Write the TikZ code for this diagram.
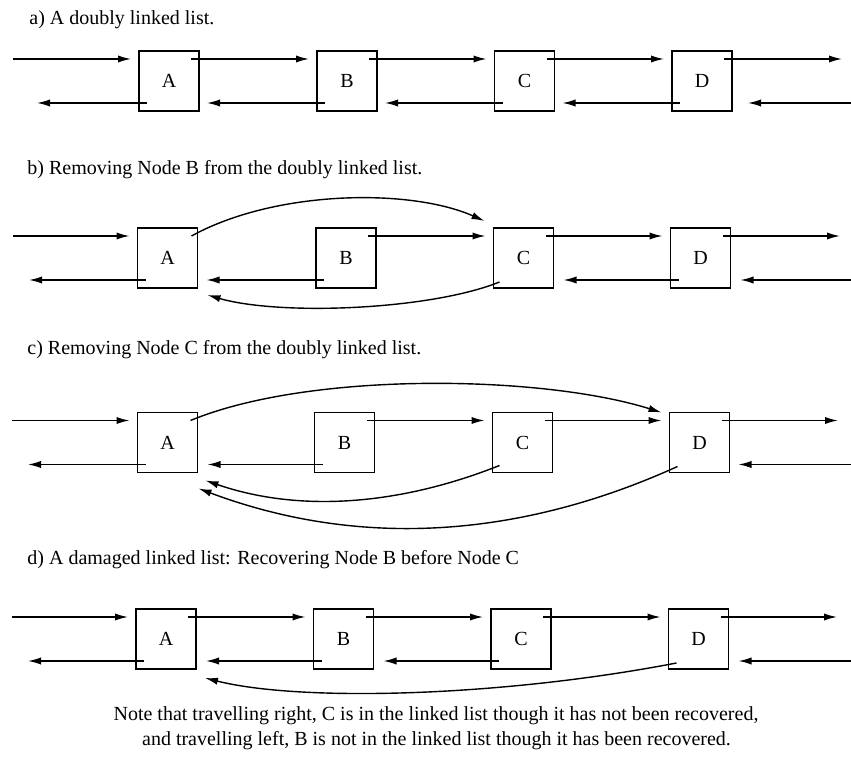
\documentclass[tikz,border=0pt]{standalone}
\usepackage{fontspec}
\setmainfont{Liberation Serif}
\usetikzlibrary{arrows.meta,calc}
\begin{document}
\begin{tikzpicture}[x=0.5pt,y=-0.5pt,
  box/.style={draw,line width=0.8pt,minimum size=30pt,inner sep=0pt,outer sep=0pt,font=\fontsize{10}{12}\selectfont},
  lnk/.style={line width=0.7pt,-{Latex[length=6.5pt,width=3.6pt]}},
  ttl/.style={anchor=base west,inner sep=0pt,font=\fontsize{10}{12}\selectfont},
  notetxt/.style={anchor=base,inner sep=0pt,font=\fontsize{10}{12}\selectfont}]
\useasboundingbox (0,0) rectangle (851,769);

% ---------------- a)
\node[ttl] (ta) at (29,25) {a) A doubly linked list.};
\node[box] (aA) at (169,81) {A};
\node[box] (aB) at (347,81) {B};
\node[box] (aC) at (524.5,81) {C};
\node[box] (aD) at (702,81) {D};
\coordinate (aIn) at (13,59);
\coordinate (aOut) at (842,59);
\coordinate (aLeft) at (37,103);
\coordinate (aRin) at (851,103);
\draw[lnk] (aIn) -- ($(aA.north west)+(-8,8)$);
\draw[lnk] ($(aA.north east)+(-8,8)$) -- ($(aB.north west)+(-8,8)$);
\draw[lnk] ($(aB.north east)+(-8,8)$) -- ($(aC.north west)+(-8,8)$);
\draw[lnk] ($(aC.north east)+(-8,8)$) -- ($(aD.north west)+(-8,8)$);
\draw[lnk] ($(aD.north east)+(-8,8)$) -- (aOut);
\draw[lnk] ($(aA.south west)+(8,-8)$) -- (aLeft);
\draw[lnk] ($(aB.south west)+(8,-8)$) -- ($(aA.south east)+(8,-8)$);
\draw[lnk] ($(aC.south west)+(8,-8)$) -- ($(aB.south east)+(8,-8)$);
\draw[lnk] ($(aD.south west)+(8,-8)$) -- ($(aC.south east)+(8,-8)$);
\draw[lnk] (aRin) -- ($(aD.south east)+(16,-8)$);

% ---------------- b)
\node[ttl] (tb) at (27,175) {b) Removing Node B from the doubly linked list.};
\node[box] (bA) at (167.5,258) {A};
\node[box] (bB) at (346,258) {B};
\node[box] (bC) at (523.5,258) {C};
\node[box] (bD) at (700.5,258) {D};
\coordinate (bIn) at (13,236);
\coordinate (bOut) at (840,236);
\coordinate (bLeft) at (29,280);
\coordinate (bRin) at (851,280);
\draw[lnk] (bIn) -- ($(bA.north west)+(-8,8)$);
\draw[lnk] ($(bA.north east)+(-6,8)$) .. controls (275,190) and (410,188) .. ($(bC.north west)+(-9,-7)$);
\draw[lnk] ($(bB.north east)+(-8,8)$) -- ($(bC.north west)+(-8,8)$);
\draw[lnk] ($(bC.north east)+(-8,8)$) -- ($(bD.north west)+(-8,8)$);
\draw[lnk] ($(bD.north east)+(-8,8)$) -- (bOut);
\draw[lnk] ($(bA.south west)+(8,-8)$) -- (bLeft);
\draw[lnk] ($(bB.south west)+(8,-8)$) -- ($(bA.south east)+(9,-8)$);
\draw[lnk] ($(bC.south west)+(6,-6)$) .. controls (430,310) and (280,316) .. ($(bA.south east)+(10,7)$);
\draw[lnk] ($(bD.south west)+(8,-8)$) -- ($(bC.south east)+(10,-8)$);
\draw[lnk] (bRin) -- ($(bD.south east)+(10,-8)$);

% ---------------- c)
\node[ttl] (tc) at (27,355) {c) Removing Node C from the doubly linked list.};
\node[box] (cA) at (167.5,442.5) {A};
\node[box] (cB) at (344.5,442.5) {B};
\node[box] (cC) at (522.5,442.5) {C};
\node[box] (cD) at (699.5,442.5) {D};
\coordinate (cIn) at (12,420.5);
\coordinate (cOut) at (838,420.5);
\coordinate (cLeft) at (28,464.5);
\coordinate (cRin) at (851,464.5);
\draw[lnk] (cIn) -- ($(cA.north west)+(-8,8)$);
\draw[lnk] ($(cA.north east)+(-7,8)$) .. controls (310,371) and (542,375) .. ($(cD.north west)+(-8,0)$);
\draw[lnk] ($(cB.north east)+(-8,8)$) -- ($(cC.north west)+(-8,8)$);
\draw[lnk] ($(cC.north east)+(-8,8)$) -- ($(cD.north west)+(-8,8)$);
\draw[lnk] ($(cD.north east)+(-8,8)$) -- (cOut);
\draw[lnk] ($(cA.south west)+(8,-8)$) -- (cLeft);
\draw[lnk] ($(cB.south west)+(8,-8)$) -- ($(cA.south east)+(10,-8)$);
\draw[lnk] ($(cC.south west)+(7,-7)$) .. controls (400,505) and (300,513) .. ($(cA.south east)+(8,8)$);
\draw[lnk] ($(cD.south west)+(8,-6)$) .. controls (520,538) and (360,549) .. ($(cA.south east)+(1,16)$);
\draw[lnk] (cRin) -- ($(cD.south east)+(9,-8)$);

% ---------------- d)
\node[ttl] (td) at (27,565) {d) A damaged linked list: Recovering Node B before Node C};
\node[box] (dA) at (166,639) {A};
\node[box] (dB) at (343.5,639) {B};
\node[box] (dC) at (521,639) {C};
\node[box] (dD) at (698.5,639) {D};
\coordinate (dIn) at (12,617);
\coordinate (dOut) at (837,617);
\coordinate (dLeft) at (28,661);
\coordinate (dRin) at (851,661);
\draw[lnk] (dIn) -- ($(dA.north west)+(-8,8)$);
\draw[lnk] ($(dA.north east)+(-8,8)$) -- ($(dB.north west)+(-8,8)$);
\draw[lnk] ($(dB.north east)+(-8,8)$) -- ($(dC.north west)+(-8,8)$);
\draw[lnk] ($(dC.north east)+(-8,8)$) -- ($(dD.north west)+(-8,8)$);
\draw[lnk] ($(dD.north east)+(-8,8)$) -- (dOut);
\draw[lnk] ($(dA.south west)+(8,-8)$) -- (dLeft);
\draw[lnk] ($(dB.south west)+(8,-8)$) -- ($(dA.south east)+(10,-8)$);
\draw[lnk] ($(dC.south west)+(8,-8)$) -- ($(dB.south east)+(10,-8)$);
\draw[lnk] ($(dD.south west)+(8,-6)$) .. controls (500,697) and (300,702) .. ($(dA.south east)+(9,9)$);
\draw[lnk] (dRin) -- ($(dD.south east)+(10,-8)$);

% ---------------- note
\node[notetxt] (n1) at (436,720) {Note that travelling right, C is in the linked list though it has not been recovered,};
\node[notetxt] (n2) at (436.5,745) {and travelling left, B is not in the linked list though it has been recovered.};
\end{tikzpicture}
\end{document}
